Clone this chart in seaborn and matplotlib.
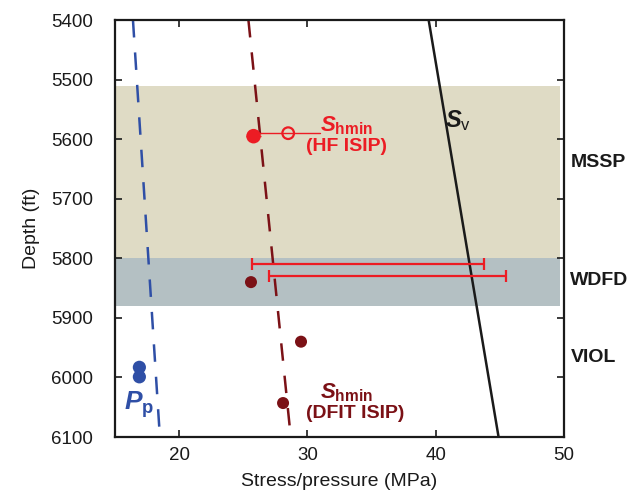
import matplotlib
matplotlib.use("Agg")
import matplotlib.pyplot as plt
import seaborn as sns
import pandas as pd
import numpy as np

# ---- data ----
line_depth = [5400, 6100]
pp_line = [16.4, 18.5]
shmin_line = [25.4, 28.7]
sv_line = [39.45, 44.9]

pp_x = [16.9, 16.9]
pp_depth = [5983, 5999]

dfit_x = [25.6, 29.5, 28.1]
dfit_depth = [5840, 5940, 6043]

hf_x = [25.8]
hf_depth = [5595]
hf_err = [0.6]
hf_open_x = [28.5]
hf_open_depth = [5590]
hf_open_line = [26.3, 31.0]

range_depth = [5809, 5829]
range_low = [25.7, 27.0]
range_high = [43.75, 45.5]

zones = ["MSSP", "WDFD", "VIOL"]
zone_top = [5510, 5800, 5880]
zone_bottom = [5800, 5880, 6100]
zone_label_depth = [5640, 5837, 5967]
zone_colors = ["#dfdbc5", "#b4c0c3", None]

sns.set_theme(style="ticks")
plt.rcParams["font.family"] = ["Liberation Sans", "DejaVu Sans"]
plt.rcParams["mathtext.fontset"] = "custom"
plt.rcParams["mathtext.it"] = "Liberation Sans:italic:bold"
plt.rcParams["mathtext.bf"] = "Liberation Sans:bold"
plt.rcParams["mathtext.rm"] = "Liberation Sans"

RED = "#ec1c24"
DRED = "#7b1116"
BLUE = "#2f4fa6"
INK = "#1a1a1a"

fig = plt.figure(figsize=(6.36, 4.95), dpi=100)
ax = fig.add_axes([115/636, 1-437/495, (564-115)/636, (437-20)/495])

for t, b, c in zip(zone_top, zone_bottom, zone_colors):
    if c:
        ax.axhspan(t, b, xmin=0, xmax=0.992, color=c, lw=0, zorder=0)

lines = pd.DataFrame({"x": pp_line + shmin_line + sv_line,
                      "depth": line_depth * 3,
                      "kind": ["pp"] * 2 + ["sh"] * 2 + ["sv"] * 2})
sns.lineplot(data=lines[lines.kind == "pp"], x="x", y="depth", ax=ax, color=BLUE,
             lw=1.8, sort=False, estimator=None)
ax.lines[-1].set_dashes([7, 6])
sns.lineplot(data=lines[lines.kind == "sh"], x="x", y="depth", ax=ax, color=DRED,
             lw=1.8, sort=False, estimator=None)
ax.lines[-1].set_dashes([7, 6])
sns.lineplot(data=lines[lines.kind == "sv"], x="x", y="depth", ax=ax, color=INK,
             lw=1.8, sort=False, estimator=None)

# ranges in WDFD
for d, lo, hi in zip(range_depth, range_low, range_high):
    ax.errorbar([(lo + hi) / 2], [d], xerr=[[(hi - lo) / 2], [(hi - lo) / 2]], fmt="none",
                ecolor=RED, elinewidth=1.6, capsize=4, capthick=1.6, zorder=3)

# HF ISIP
ax.plot(hf_open_line, [hf_open_depth[0]] * 2, color=RED, lw=1.0, zorder=3)
ax.errorbar(hf_x, hf_depth, xerr=hf_err, fmt="none", ecolor=RED, elinewidth=1.0, zorder=3)
sns.scatterplot(x=hf_x, y=hf_depth, ax=ax, color=RED, s=110, edgecolor="none", zorder=4)
ax.scatter(hf_open_x, hf_open_depth, s=70, facecolor="none", edgecolor=RED, lw=1.6, zorder=4)

sns.scatterplot(x=dfit_x, y=dfit_depth, ax=ax, color=DRED, s=75, edgecolor="none", zorder=4)
sns.scatterplot(x=pp_x, y=pp_depth, ax=ax, color=BLUE, s=90, edgecolor="none", zorder=4)

ax.set_xlim(15, 50)
ax.set_ylim(6100, 5400)
ax.set_xticks([20, 30, 40, 50])
ax.set_yticks(np.arange(5400, 6101, 100))
ax.tick_params(direction="in", top=True, right=True, length=5, width=1.2,
               labelsize=13.5, colors=INK, pad=7)
ax.tick_params(axis="y", pad=16)
for s in ax.spines.values():
    s.set_linewidth(1.6)
    s.set_color(INK)
ax.set_xlabel("Stress/pressure (MPa)", fontsize=14, color=INK, labelpad=7)
ax.set_ylabel("Depth (ft)", fontsize=14, color=INK, labelpad=8)

# annotations
ax.text(31.0, 5578, r"$S_{\mathbf{hmin}}$", color=RED, fontsize=16, ha="left", va="center")
ax.text(29.9, 5613, "(HF ISIP)", color=RED, fontsize=14, fontweight="bold", ha="left", va="center")
ax.text(40.7, 5568, r"$S_{\mathrm{v}}$", color=INK, fontsize=17, ha="left", va="center")
ax.text(15.7, 6045, r"$P_{\mathbf{p}}$", color=BLUE, fontsize=19, ha="left", va="center")
ax.text(31.0, 6025, r"$S_{\mathbf{hmin}}$", color=DRED, fontsize=16, ha="left", va="center")
ax.text(29.9, 6060, "(DFIT ISIP)", color=DRED, fontsize=14, fontweight="bold", ha="left", va="center")
for z, d in zip(zones, zone_label_depth):
    ax.text(50.5, d, z, fontsize=14, fontweight="bold", color=INK, ha="left", va="center")

fig.savefig("out.png", dpi=100)
